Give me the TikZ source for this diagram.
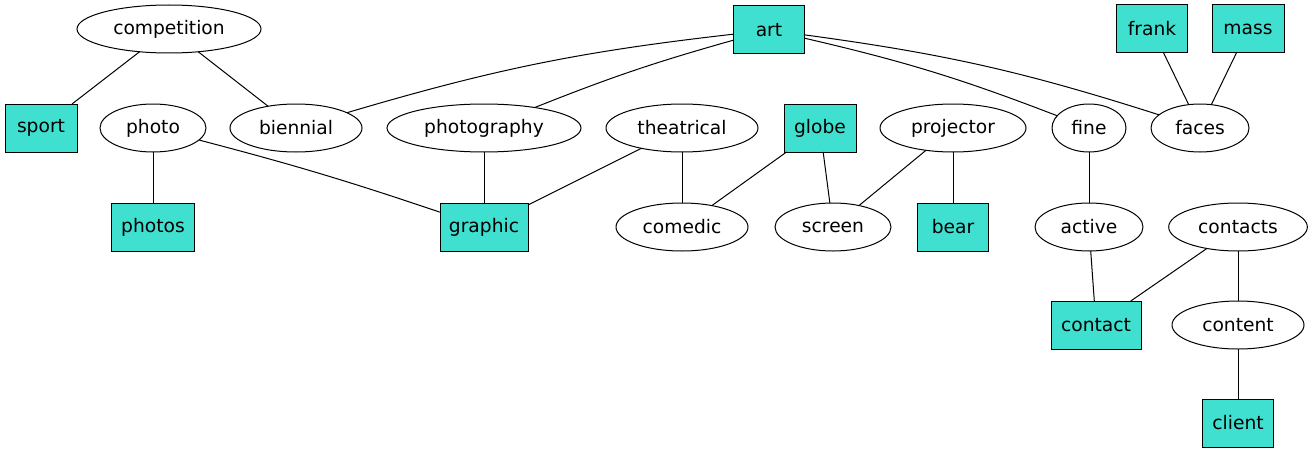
\documentclass[tikz,border=0pt]{standalone}
\usepackage{fontspec}
\setmainfont{DejaVu Sans}
\usetikzlibrary{shapes.geometric}
\definecolor{turq}{HTML}{40E0D0}
\begin{document}
\begin{tikzpicture}[x=0.75pt,y=-0.75pt,
  every node/.style={inner sep=0pt,outer sep=0pt,font=\fontsize{14pt}{16pt}\selectfont,line width=0.75pt,minimum height=36pt},
  ell/.style={ellipse,draw,fill=white},
  bx/.style={rectangle,draw,fill=turq},
  every path/.style={line width=0.75pt}]
\useasboundingbox (0,0) rectangle (1312,453);
\node[ell,minimum width=138pt] (competition) at (169,29) {competition};
\node[bx,minimum width=53.5pt] (art) at (769,30) {art};
\node[bx,minimum width=53.5pt] (frank) at (1152,29) {frank};
\node[bx,minimum width=54pt] (mass) at (1248,29) {mass};
\node[bx,minimum width=54pt] (sport) at (41,128) {sport};
\node[ell,minimum width=79.5pt] (photo) at (153,128) {photo};
\node[ell,minimum width=99pt] (biennial) at (296,128) {biennial};
\node[ell,minimum width=145.5pt] (photography) at (484,128) {photography};
\node[ell,minimum width=114pt] (theatrical) at (682,128) {theatrical};
\node[bx,minimum width=54pt] (globe) at (820,128) {globe};
\node[ell,minimum width=109.5pt] (projector) at (953,128) {projector};
\node[ell,minimum width=55.5pt] (fine) at (1089,128) {fine};
\node[ell,minimum width=73.5pt] (faces) at (1200,128) {faces};
\node[bx,minimum width=62pt] (photos) at (153,227) {photos};
\node[bx,minimum width=66pt] (graphic) at (484,227) {graphic};
\node[ell,minimum width=99pt] (comedic) at (682,227) {comedic};
\node[ell,minimum width=87pt] (screen) at (833,227) {screen};
\node[bx,minimum width=53.5pt] (bear) at (953,227) {bear};
\node[ell,minimum width=81pt] (active) at (1089,227) {active};
\node[ell,minimum width=104pt] (contacts) at (1238,227) {contacts};
\node[bx,minimum width=67.5pt] (contact) at (1096,325) {contact};
\node[ell,minimum width=99pt] (content) at (1238,325) {content};
\node[bx,minimum width=53.5pt] (client) at (1238,423) {client};
\draw (competition) -- (sport);
\draw (competition) -- (biennial);
\draw (art) to[bend right=5] (biennial);
\draw (art) to[bend right=3] (photography);
\draw (art) to[bend left=4] (fine);
\draw (art) to[bend left=5] (faces);
\draw (frank) -- (faces);
\draw (mass) -- (faces);
\draw (photo) -- (photos);
\draw (photo) to[bend left=2] (graphic);
\draw (photography) -- (graphic);
\draw (theatrical) -- (graphic);
\draw (theatrical) -- (comedic);
\draw (globe) -- (comedic);
\draw (globe) -- (screen);
\draw (projector) -- (screen);
\draw (projector) -- (bear);
\draw (fine) -- (active);
\draw (active) -- (contact);
\draw (contacts) -- (contact);
\draw (contacts) -- (content);
\draw (content) -- (client);
\end{tikzpicture}
\end{document}
